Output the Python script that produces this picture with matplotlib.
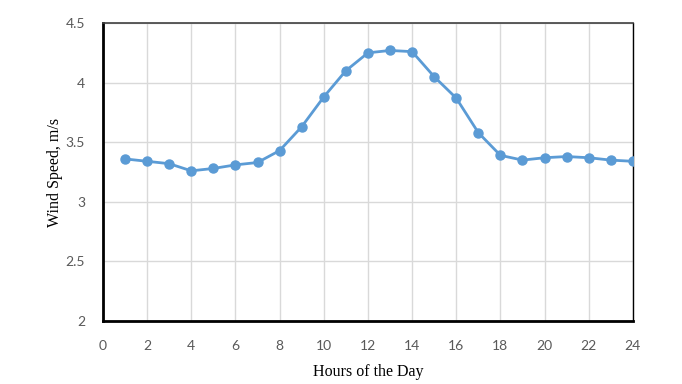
import matplotlib.pyplot as plt

# hourly mean wind speed
hours = list(range(1, 25))
wind_speed = [3.36, 3.34, 3.32, 3.26, 3.28, 3.31, 3.33, 3.43, 3.63, 3.88, 4.10, 4.25,
              4.27, 4.26, 4.05, 3.87, 3.58, 3.39, 3.35, 3.37, 3.38, 3.37, 3.35, 3.34]
x_ticks = list(range(0, 25, 2))
y_ticks = [2, 2.5, 3, 3.5, 4, 4.5]

fig = plt.figure(figsize=(6.82, 3.84), dpi=100)
ax = fig.add_axes([0.151, 0.164, 0.777, 0.776])

ax.plot(hours, wind_speed, '-o', color='#5B9BD5', linewidth=2, markersize=6.5, zorder=3)

ax.set_xlim(0, 24)
ax.set_ylim(2, 4.5)
ax.set_xticks(x_ticks)
ax.set_yticks(y_ticks)
ax.set_yticklabels([f'{v:g}' for v in y_ticks])
ax.grid(True, color='#D9D9D9', linewidth=1)
ax.set_axisbelow(True)

for lab in ax.get_xticklabels() + ax.get_yticklabels():
    lab.set_fontfamily('Lato')
    lab.set_fontsize(10)
    lab.set_color('#595959')
ax.tick_params(axis='both', length=0)
ax.tick_params(axis='x', pad=14)
ax.tick_params(axis='y', pad=13)

ax.spines['left'].set_linewidth(2)
ax.spines['bottom'].set_linewidth(2)
ax.spines['top'].set_color('#404040')
ax.spines['top'].set_linewidth(1.2)
ax.spines['right'].set_linewidth(1)

ax.set_xlabel('Hours of the Day', fontfamily='Liberation Serif', fontsize=11.5, labelpad=8)
ax.set_ylabel('Wind Speed, m/s', fontfamily='Liberation Serif', fontsize=11.5, labelpad=2)

plt.savefig('out.png', dpi=100)
